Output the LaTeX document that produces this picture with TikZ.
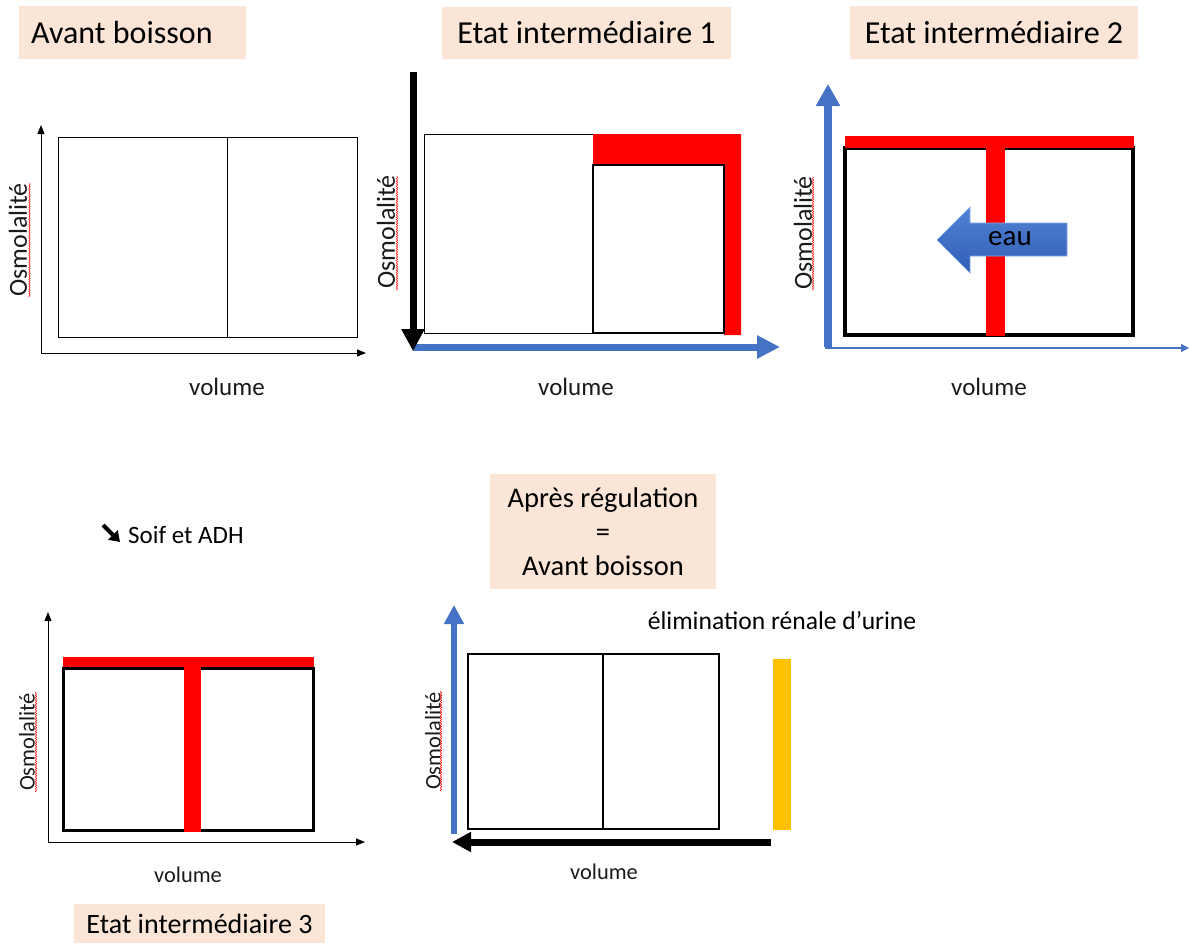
\documentclass[tikz,border=0pt]{standalone}
\usepackage{fontspec}
\setmainfont{Carlito}
\usetikzlibrary{arrows.meta,decorations.pathmorphing}
\definecolor{peach}{HTML}{FBE5D6}
\definecolor{oblue}{HTML}{4472C4}
\definecolor{ored}{HTML}{FF0000}
\definecolor{ogold}{HTML}{FFC000}
\definecolor{txt}{HTML}{1A1A1A}
\definecolor{arrowtop}{HTML}{5283D3}
\definecolor{arrowbot}{HTML}{2F5DB6}
\begin{document}
\begin{tikzpicture}[x=1pt,y=-1pt,
  titlebox/.style={fill=peach, inner sep=0pt, text=black, align=center},
  thinaxis/.style={line width=1pt, black, -{Triangle[length=9pt,width=7pt]}},
  osmo/.style={rotate=90, text=txt, inner sep=0pt},
  vol/.style={text=txt, inner sep=0pt},
  spell/.style={draw=ored, line width=0.5pt, decorate, decoration={snake, amplitude=0.7pt, segment length=2.4pt}},
  bigtitle/.style={font=\fontsize{32}{38}\selectfont},
  midtitle/.style={font=\fontsize{28}{34}\selectfont}
]
\useasboundingbox (0,0) rectangle (1189,943);

% ===== Panel 1 : Avant boisson =====
\node[titlebox, bigtitle, anchor=north west, minimum width=227pt, minimum height=53pt] (t1) at (19,6)
  {\makebox[203pt][l]{Avant boisson}};
\coordinate (o1) at (41,353);
\coordinate (y1) at (41,125);
\coordinate (x1) at (366,353);
\draw[thinaxis] (o1) -- (y1);
\draw[thinaxis] (o1) -- (x1);
\draw[line width=1pt] (58,137) rectangle (357,337);
\draw[line width=1pt] (227,137) -- (227,337);
\node[osmo, font=\fontsize{26}{30}\selectfont] (os1) at (18,240) {Osmolalité};
\draw[spell] (29.5,297) -- (29.5,183);
\node[vol, font=\fontsize{25}{30}\selectfont] (v1) at (227,387) {volume};

% ===== Panel 2 : Etat intermediaire 1 =====
\node[titlebox, bigtitle, minimum width=289pt, minimum height=52pt] (t2) at (586.5,33) {Etat intermédiaire 1};
\coordinate (o2) at (413,347);
\coordinate (ytop2) at (413,72);
\coordinate (ybot2) at (413,351);
\coordinate (x2) at (780,347);
\draw[line width=7pt, oblue, -{Triangle[length=23pt,width=22pt]}] (o2) -- (x2);
\draw[line width=7pt, black, -{Triangle[length=22pt,width=22pt]}] (ytop2) -- (ybot2);
\draw[line width=1pt] (424,134) rectangle (593,333);
\fill[ored] (593,134) -- (741,134) -- (741,335) -- (724,335) -- (724,165) -- (593,165) -- cycle;
\draw[line width=2pt] (593,165) rectangle (724,333);
\node[osmo, font=\fontsize{26}{30}\selectfont] (os2) at (386,232) {Osmolalité};
\draw[spell] (397,290) -- (397,176);
\node[vol, font=\fontsize{25}{30}\selectfont] (v2) at (576,387) {volume};

% ===== Panel 3 : Etat intermediaire 2 =====
\node[titlebox, bigtitle, minimum width=288pt, minimum height=53pt] (t3) at (994,32.5) {Etat intermédiaire 2};
\coordinate (o3) at (828,347);
\coordinate (y3) at (828,84);
\coordinate (ox3) at (825,348);
\coordinate (x3) at (1189,348);
\draw[line width=8pt, oblue, -{Triangle[length=22pt,width=23pt]}] (o3) -- (y3);
\draw[line width=1.3pt, oblue, -{Triangle[length=8pt,width=8pt]}] (ox3) -- (x3);
\draw[line width=3.5pt] (845,148) rectangle (1133,335);
\draw[line width=1pt] (987,136) -- (1133,136);
\fill[ored] (845,136) rectangle (1134,148);
\fill[ored] (986,136) rectangle (1005,336);
\shade[top color=arrowtop, bottom color=arrowbot, draw=arrowtop!70!white, line width=0.6pt]
  (937,240) -- (970,207) -- (970,223) -- (1067,223) -- (1067,256) -- (970,256) -- (970,273) -- cycle;
\node[text=black, inner sep=0pt, font=\fontsize{29}{34}\selectfont] (eau) at (1010,239) {eau};
\node[osmo, font=\fontsize{26}{30}\selectfont] (os3) at (803,233) {Osmolalité};
\draw[spell] (813,290) -- (813,177);
\node[vol, font=\fontsize{25}{30}\selectfont] (v3) at (989,387) {volume};

% ===== Panel 4 : Etat intermediaire 3 =====
\coordinate (sa) at (103,525);
\coordinate (sb) at (120,542);
\draw[line width=4pt, black, -{Triangle[length=10pt,width=13pt]}] (sa) -- (sb);
\node[anchor=west, inner sep=0pt, text=black, font=\fontsize{25}{30}\selectfont] (soif) at (128,535) {Soif et ADH};
\coordinate (o4) at (48,842);
\coordinate (y4) at (48,612);
\coordinate (x4) at (365,842);
\draw[thinaxis] (o4) -- (y4);
\draw[thinaxis] (o4) -- (x4);
\draw[line width=3pt] (63,668) rectangle (313,830);
\fill[ored] (63,657) rectangle (314,667);
\fill[ored] (184,657) rectangle (201,832);
\node[osmo, font=\fontsize{22.4}{27}\selectfont] (os4) at (27,742) {Osmolalité};
\draw[spell] (36,792) -- (36,692);
\node[vol, font=\fontsize{22.4}{27}\selectfont] (v4) at (188,875) {volume};
\node[titlebox, midtitle, minimum width=251pt, minimum height=39pt] (t4) at (199.5,923.5) {Etat intermédiaire 3};

% ===== Panel 5 : Apres regulation =====
\node[titlebox, font=\fontsize{28.5}{34}\selectfont, minimum width=226pt, minimum height=115pt] (t5) at (603,531.5)
  {Après régulation\\=\\Avant boisson};
\coordinate (o5) at (454,834);
\coordinate (y5) at (454,605);
\coordinate (xs5) at (771,842);
\coordinate (xe5) at (452,842);
\draw[line width=6.5pt, oblue, -{Triangle[length=19pt,width=19pt]}] (o5) -- (y5);
\draw[line width=7pt, black, -{Triangle[length=19pt,width=19pt]}] (xs5) -- (xe5);
\draw[line width=2.5pt] (468,654) rectangle (719,829);
\draw[line width=2.5pt] (603,654) -- (603,829);
\fill[ogold] (773,659) rectangle (791,830);
\node[inner sep=0pt, text=black, font=\fontsize{25.6}{30}\selectfont] (elim) at (782,621) {élimination rénale d’urine};
\node[osmo, font=\fontsize{22.4}{27}\selectfont] (os5) at (433,741) {Osmolalité};
\draw[spell] (441,791) -- (441,691);
\node[vol, font=\fontsize{22.4}{27}\selectfont] (v5) at (604,872) {volume};
\end{tikzpicture}
\end{document}
